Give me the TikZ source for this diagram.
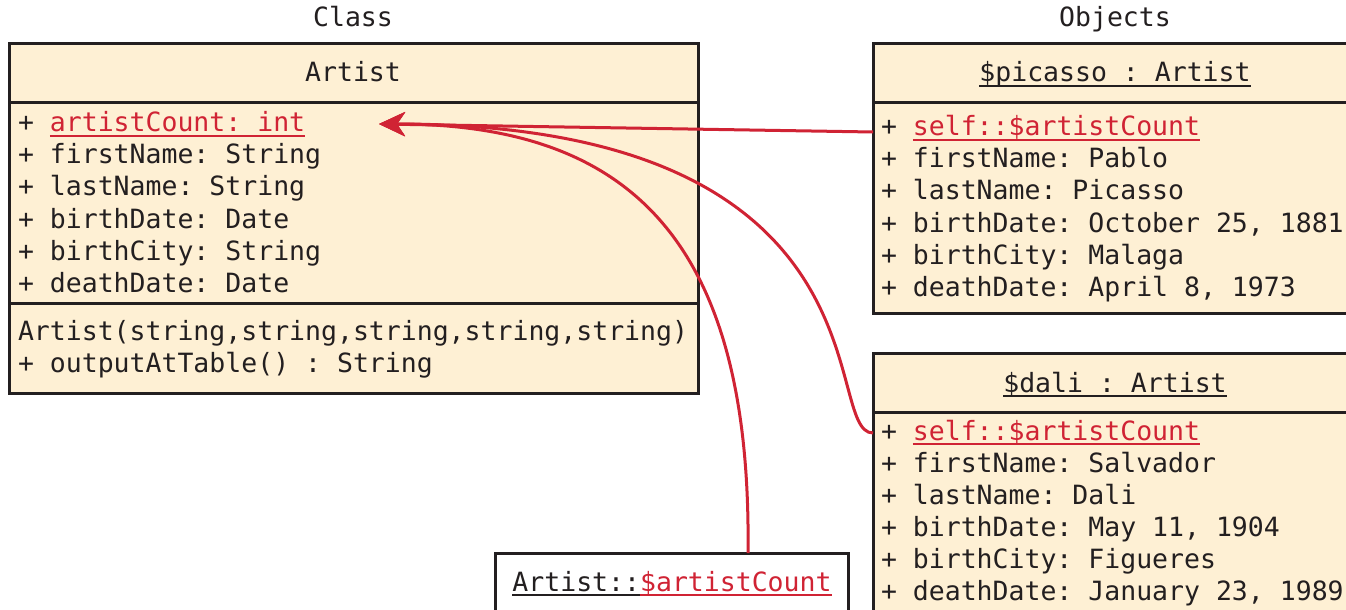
\documentclass[tikz,border=0pt]{standalone}
\usepackage{fontspec}
\setmonofont{DejaVu Sans Mono}
\usetikzlibrary{arrows.meta}
\definecolor{ink}{HTML}{231F20}
\definecolor{cream}{HTML}{FEF0D4}
\definecolor{umlred}{HTML}{D02334}
\newcommand\ulx[1]{\setbox0\hbox{#1}\rlap{\rule[-5bp]{\wd0}{2bp}}\box0}
\newcommand\rd[1]{\textcolor{umlred}{#1}}
\tikzset{
  txt/.style={inner sep=0pt, outer sep=0pt, font=\ttfamily\fontsize{26.5bp}{32bp}\selectfont\frenchspacing, text=ink},
  row/.style={txt, anchor=base west},
  ctr/.style={txt, anchor=base},
  umlbox/.style={draw=ink, line width=3bp, fill=cream, rectangle, inner sep=0pt, outer sep=0pt, anchor=north west},
  plainbox/.style={umlbox, fill=white},
  divider/.style={draw=ink, line width=3bp},
  conn/.style={draw=umlred, line width=3bp, -{Stealth[length=26bp,width=24bp,inset=8bp]}}
}
\begin{document}
\begin{tikzpicture}[x=1bp,y=-1bp]
\useasboundingbox (0,0) rectangle (1346,610);
\clip (0,0) rectangle (1346,610);

% headings
\node[ctr] (hclass) at (353,27) {Class};
\node[ctr] (hobj) at (1115,27) {Objects};

% class box
\node[umlbox, minimum width=689bp, minimum height=349bp] (cls) at (9,44) {};
\draw[divider] (9,103) -- (698,103);
\draw[divider] (9,303) -- (698,303);
\node[ctr] (clsname) at (353,82) {Artist};
\node[row] (c1) at (18,132) {+ \rd{\ulx{artistCount: int}}};
\node[row] (c2) at (18,164) {+ firstName: String};
\node[row] (c3) at (18,196) {+ lastName: String};
\node[row] (c4) at (18,228) {+ birthDate: Date};
\node[row] (c5) at (18,260) {+ birthCity: String};
\node[row] (c6) at (18,292) {+ deathDate: Date};
\node[row] (m1) at (18,340) {Artist(string,string,string,string,string)};
\node[row] (m2) at (18,372) {+ outputAtTable() : String};

% picasso box
\node[umlbox, minimum width=500bp, minimum height=269bp] (pic) at (873,44) {};
\draw[divider] (873,103) -- (1373,103);
\node[ctr] (picname) at (1115,82) {\ulx{\$picasso : Artist}};
\node[row] (p1) at (881,136) {+ \rd{\ulx{self::\$artistCount}}};
\node[row] (p2) at (881,168) {+ firstName: Pablo};
\node[row] (p3) at (881,200) {+ lastName: Picasso};
\node[row] (p4) at (881,232) {+ birthDate: October 25, 1881};
\node[row] (p5) at (881,264) {+ birthCity: Malaga};
\node[row] (p6) at (881,296) {+ deathDate: April 8, 1973};

% dali box
\node[umlbox, minimum width=500bp, minimum height=290bp] (dali) at (873,353) {};
\draw[divider] (873,412) -- (1373,412);
\node[ctr] (daliname) at (1115,392) {\ulx{\$dali : Artist}};
\node[row] (d1) at (881,440) {+ \rd{\ulx{self::\$artistCount}}};
\node[row] (d2) at (881,472) {+ firstName: Salvador};
\node[row] (d3) at (881,504) {+ lastName: Dali};
\node[row] (d4) at (881,536) {+ birthDate: May 11, 1904};
\node[row] (d5) at (881,568) {+ birthCity: Figueres};
\node[row] (d6) at (881,600) {+ deathDate: January 23, 1989};

% static member box
\node[plainbox, minimum width=353bp, minimum height=90bp] (stat) at (495,553) {};
\node[ctr] (statname) at (672,591) {\ulx{Artist::}\rd{\ulx{\$artistCount}}};

% connectors
\coordinate (tip) at (379,124);
\coordinate (picIn) at (873,132);
\coordinate (daliIn) at (873,433);
\coordinate (statIn) at (748,553);
\draw[conn] (picIn) -- (tip);
\draw[conn] (daliIn) .. controls (820,433) and (900,124) .. (tip);
\draw[conn] (statIn) .. controls (752,230) and (620,124) .. (tip);
\end{tikzpicture}
\end{document}
